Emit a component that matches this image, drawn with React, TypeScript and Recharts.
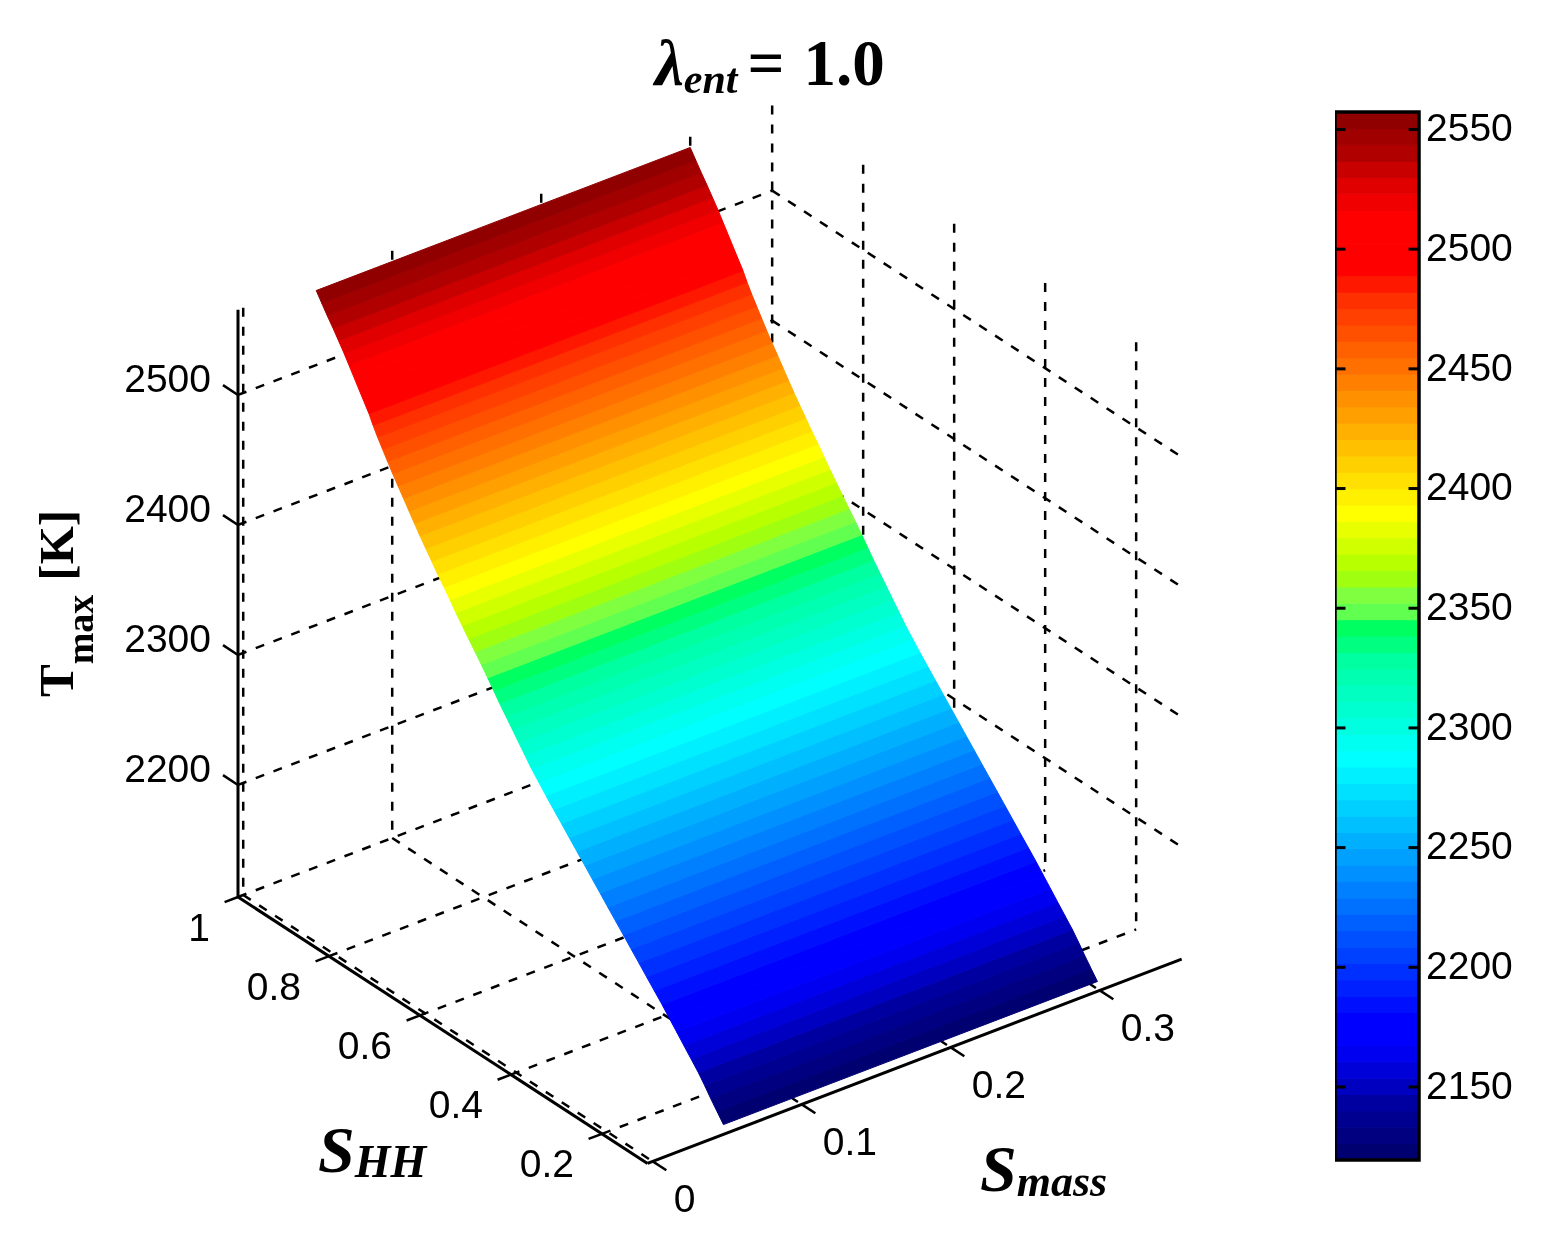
import React from 'react';
import { ScatterChart, Scatter, XAxis, YAxis } from 'recharts';

// ---------- data ----------
const smassTicks = [0, 0.1, 0.2, 0.3];
const shhTicks = [0.2, 0.4, 0.6, 0.8, 1];
const tmaxTicks = [2200, 2300, 2400, 2500];
const colorbarTicks = [2150, 2200, 2250, 2300, 2350, 2400, 2450, 2500, 2550];

// contour levels of the surface (K), one more than the colours
const tmaxLevels = [
  2119.5, 2126.3, 2133.2, 2140.0, 2146.9, 2153.7, 2160.5, 2167.4, 2174.2, 2181.1,
  2187.9, 2194.7, 2201.6, 2208.4, 2215.3, 2222.1, 2228.9, 2235.8, 2242.6, 2249.5,
  2256.3, 2263.1, 2270.0, 2276.8, 2283.7, 2290.5, 2297.3, 2304.2, 2311.0, 2317.9,
  2324.7, 2331.5, 2338.4, 2345.2, 2352.1, 2358.9, 2365.7, 2372.6, 2379.4, 2386.3,
  2393.1, 2399.9, 2406.8, 2413.6, 2420.5, 2427.3, 2434.1, 2441.0, 2447.8, 2454.7,
  2461.5, 2468.3, 2475.2, 2482.0, 2488.9, 2495.7, 2502.5, 2509.4, 2516.2, 2523.1,
  2529.9, 2536.7, 2543.6, 2550.4, 2557.3,
];
// S_HH at which the surface reaches each level
const shhAtLevel = [
  0.105, 0.119, 0.133, 0.146, 0.160, 0.176, 0.192, 0.208, 0.224, 0.240,
  0.257, 0.274, 0.291, 0.308, 0.325, 0.342, 0.359, 0.376, 0.393, 0.410,
  0.427, 0.444, 0.461, 0.478, 0.495, 0.511, 0.527, 0.541, 0.555, 0.569,
  0.583, 0.597, 0.610, 0.623, 0.637, 0.651, 0.665, 0.679, 0.693, 0.706,
  0.719, 0.733, 0.746, 0.759, 0.772, 0.784, 0.796, 0.808, 0.820, 0.832,
  0.843, 0.854, 0.865, 0.875, 0.884, 0.895, 0.906, 0.917, 0.928, 0.939,
  0.951, 0.963, 0.976, 0.988, 1.0,
];
const surfaceSmassRange = [0.049, 0.3];

// colormap, bottom to top
const levelColors = [
  '#000070', '#000080', '#000090', '#0000a0', '#0000c0', '#0000d8', '#0000f0', '#0000ff',
  '#0000ff', '#0010ff', '#0020ff', '#0030ff', '#0040ff', '#0050ff', '#0060ff', '#0070ff',
  '#0080ff', '#0090ff', '#00a0ff', '#00b0ff', '#00c0ff', '#00d0ff', '#00e0ff', '#00f0ff',
  '#00ffff', '#00fff0', '#00ffe0', '#00ffd0', '#00ffc0', '#00ffb0', '#00ffa0', '#00ff80',
  '#00ff60', '#60ff50', '#80ff40', '#a0ff10', '#b8ff00', '#d0ff00', '#e8ff00', '#ffff00',
  '#fff000', '#ffe000', '#ffd000', '#ffc000', '#ffb000', '#ffa000', '#ff9000', '#ff8000',
  '#ff7000', '#ff6000', '#ff5000', '#ff4000', '#ff3000', '#ff1800', '#ff0000', '#ff0000',
  '#ff0000', '#ff0000', '#f00000', '#e00000', '#c80000', '#b00000', '#a00000', '#900000',
];

// ---------- axes box and view ----------
const SM_MIN = -0.0035;
const SM_MAX = 0.355;
const S_MIN = 0.1;
const S_MAX = 1;
const T_MIN = 2113.8;
const T_MAX = 2565.5;

const W = 1547;
const H = 1247;
const SANS = '"Liberation Sans", Arial, sans-serif';
const SERIF = '"Liberation Serif", "Times New Roman", serif';
const TICK_SIZE = 39;

const project = (sm: number, s: number, t: number) => ({
  x: 238 + 455 * (S_MAX - s) + 1490 * (sm - SM_MIN),
  y: 897 + 296 * (S_MAX - s) - 570 * (sm - SM_MIN) - 1.3 * (t - T_MIN),
});

type P = { x: number; y: number };
const noMark = () => <g />;

const dashed = { stroke: '#000', strokeWidth: 2.5, strokeDasharray: '9 10', fill: 'none' };
const solid = { stroke: '#000', strokeWidth: 3, fill: 'none' };

const gridLines: P[][] = [
  ...shhTicks.map((s) => [project(SM_MIN, s, T_MIN), project(SM_MAX, s, T_MIN)]),
  ...smassTicks.map((m) => [project(m, S_MAX, T_MIN), project(m, S_MIN, T_MIN)]),
  ...tmaxTicks.map((t) => [project(SM_MIN, S_MAX, t), project(SM_MAX, S_MAX, t)]),
  ...tmaxTicks.map((t) => [project(SM_MAX, S_MAX, t), project(SM_MAX, S_MIN, t)]),
  ...smassTicks.map((m) => [project(m, S_MAX, T_MAX), project(m, S_MAX, T_MIN)]),
  ...shhTicks.map((s) => [project(SM_MAX, s, T_MAX), project(SM_MAX, s, T_MIN)]),
];

const surfaceBands: P[][] = levelColors.map((_, k) => {
  const [m0, m1] = surfaceSmassRange;
  const a = project(m0, shhAtLevel[k], tmaxLevels[k]);
  const b = project(m1, shhAtLevel[k], tmaxLevels[k]);
  const c = project(m1, shhAtLevel[k + 1], tmaxLevels[k + 1]);
  const d = project(m0, shhAtLevel[k + 1], tmaxLevels[k + 1]);
  return [a, b, c, d, a];
});

const axisLines: P[][] = [
  [project(SM_MIN, S_MAX, T_MIN), project(SM_MIN, S_MAX, T_MAX)],
  [project(SM_MIN, S_MAX, T_MIN), project(SM_MIN, S_MIN, T_MIN)],
  [project(SM_MIN, S_MIN, T_MIN), project(SM_MAX, S_MIN, T_MIN)],
];
const tickMarks: P[][] = [
  ...tmaxTicks.map((t) => [project(SM_MIN, S_MAX, t), project(SM_MIN, 1.033, t)]),
  ...shhTicks.map((s) => [project(SM_MIN, s, T_MIN), project(-0.0125, s, T_MIN)]),
  ...smassTicks.map((m) => [project(m, S_MIN, T_MIN), project(m, 0.07, T_MIN)]),
];

const tLabels = tmaxTicks.map((t) => {
  const p = project(SM_MIN, S_MAX, t);
  return { x: p.x - 27, y: p.y - 16, text: String(t) };
});
const sLabels = shhTicks.map((s) => {
  const p = project(SM_MIN, s, T_MIN);
  return { x: p.x - 28, y: p.y + 30, text: String(s) };
});
const mLabels = smassTicks.map((m) => {
  const p = project(m, S_MIN, T_MIN);
  return { x: p.x + 21, y: p.y + 37, text: String(m) };
});

const tickText = (anchor: string) => (p: any) => (
  <text
    x={p.cx}
    y={p.cy}
    textAnchor={anchor}
    dominantBaseline="central"
    fontFamily={SANS}
    fontSize={TICK_SIZE}
    fill="#000"
  >
    {p.payload.text}
  </text>
);

const Title = (p: any) => (
  <text x={p.cx} y={p.cy} fontFamily={SERIF} fontWeight="bold" fill="#000" fontSize={65}>
    <tspan fontStyle="italic">λ</tspan>
    <tspan fontStyle="italic" fontSize={42} dy={8}>ent</tspan>
    <tspan dy={-8} dx={10}>=</tspan>
    <tspan dx={19}>1.0</tspan>
  </text>
);
const YTitle = (p: any) => (
  <text
    x={p.cx}
    y={p.cy}
    transform={`rotate(-90 ${p.cx} ${p.cy})`}
    fontFamily={SERIF}
    fontWeight="bold"
    fill="#000"
    fontSize={49}
  >
    <tspan>T</tspan>
    <tspan fontSize={38} dy={20}>max</tspan>
    <tspan dy={-20} dx={14}>[K]</tspan>
  </text>
);
const SubTitle = (main: string, subSize: number, sub: string) => (p: any) => (
  <text x={p.cx} y={p.cy} fontFamily={SERIF} fontWeight="bold" fontStyle="italic" fill="#000" fontSize={66}>
    <tspan>{main}</tspan>
    <tspan fontSize={subSize} dy={5}>{sub}</tspan>
  </text>
);

// ---------- colour bar ----------
const cbLow = tmaxLevels[0];
const cbHigh = tmaxLevels[tmaxLevels.length - 1];
const cbBands = levelColors.map((_, k) => [
  { x: 0, y: tmaxLevels[k] },
  { x: 1, y: tmaxLevels[k] },
  { x: 1, y: tmaxLevels[k + 1] },
  { x: 0, y: tmaxLevels[k + 1] },
  { x: 0, y: tmaxLevels[k] },
]);
const cbTickMarks = colorbarTicks.flatMap((t) => [
  [{ x: 0, y: t }, { x: 0.125, y: t }],
  [{ x: 0.875, y: t }, { x: 1, y: t }],
]);
const cbOutline = [
  { x: 0, y: cbLow },
  { x: 1, y: cbLow },
  { x: 1, y: cbHigh },
  { x: 0, y: cbHigh },
  { x: 0, y: cbLow },
];

export default function App() {
  return (
    <div style={{ position: 'absolute', left: 0, top: 0, width: W, height: H, background: '#fff', filter: 'blur(0.5px)' }}>
      <div style={{ position: 'absolute', left: 0, top: 0 }}>
        <ScatterChart width={W} height={H} margin={{ top: 0, right: 0, bottom: 0, left: 0 }}>
          <XAxis type="number" dataKey="x" domain={[0, W]} hide />
          <YAxis type="number" dataKey="y" domain={[0, H]} reversed hide />
          {gridLines.map((d, i) => (
            <Scatter key={`g${i}`} data={d} line={dashed} shape={noMark} isAnimationActive={false} />
          ))}
          {surfaceBands.map((d, i) => (
            <Scatter
              key={`b${i}`}
              data={d}
              line={{ fill: levelColors[i], stroke: levelColors[i], strokeWidth: 1 }}
              shape={noMark}
              isAnimationActive={false}
            />
          ))}
          {axisLines.map((d, i) => (
            <Scatter key={`a${i}`} data={d} line={solid} shape={noMark} isAnimationActive={false} />
          ))}
          {tickMarks.map((d, i) => (
            <Scatter key={`t${i}`} data={d} line={{ ...solid, strokeWidth: 2.5 }} shape={noMark} isAnimationActive={false} />
          ))}
          <Scatter data={tLabels} shape={tickText('end')} isAnimationActive={false} />
          <Scatter data={sLabels} shape={tickText('end')} isAnimationActive={false} />
          <Scatter data={mLabels} shape={tickText('start')} isAnimationActive={false} />
          <Scatter data={[{ x: 655, y: 85 }]} shape={Title} isAnimationActive={false} />
          <Scatter data={[{ x: 73, y: 697 }]} shape={YTitle} isAnimationActive={false} />
          <Scatter data={[{ x: 318, y: 1172 }]} shape={SubTitle('S', 46, 'HH')} isAnimationActive={false} />
          <Scatter data={[{ x: 980, y: 1191 }]} shape={SubTitle('S', 44, 'mass')} isAnimationActive={false} />
        </ScatterChart>
      </div>
      <div style={{ position: 'absolute', left: 1335, top: 92 }}>
        <ScatterChart width={200} height={1088} margin={{ top: 20, right: 0, bottom: 20, left: 0 }}>
          <XAxis type="number" dataKey="x" domain={[0, 1]} hide />
          <YAxis
            type="number"
            dataKey="y"
            orientation="right"
            width={116}
            domain={[cbLow, cbHigh]}
            ticks={colorbarTicks}
            axisLine={false}
            tickLine={false}
            tickSize={0}
            tickMargin={7}
            interval={0}
            tick={{ fontFamily: SANS, fontSize: TICK_SIZE, fill: '#000', dy: -2 }}
          />
          {cbBands.map((d, i) => (
            <Scatter
              key={`c${i}`}
              data={d}
              line={{ fill: levelColors[i], stroke: levelColors[i], strokeWidth: 1 }}
              shape={noMark}
              isAnimationActive={false}
            />
          ))}
          {cbTickMarks.map((d, i) => (
            <Scatter key={`m${i}`} data={d} line={solid} shape={noMark} isAnimationActive={false} />
          ))}
          <Scatter data={cbOutline} line={{ ...solid, strokeWidth: 3.5 }} shape={noMark} isAnimationActive={false} />
        </ScatterChart>
      </div>
    </div>
  );
}
